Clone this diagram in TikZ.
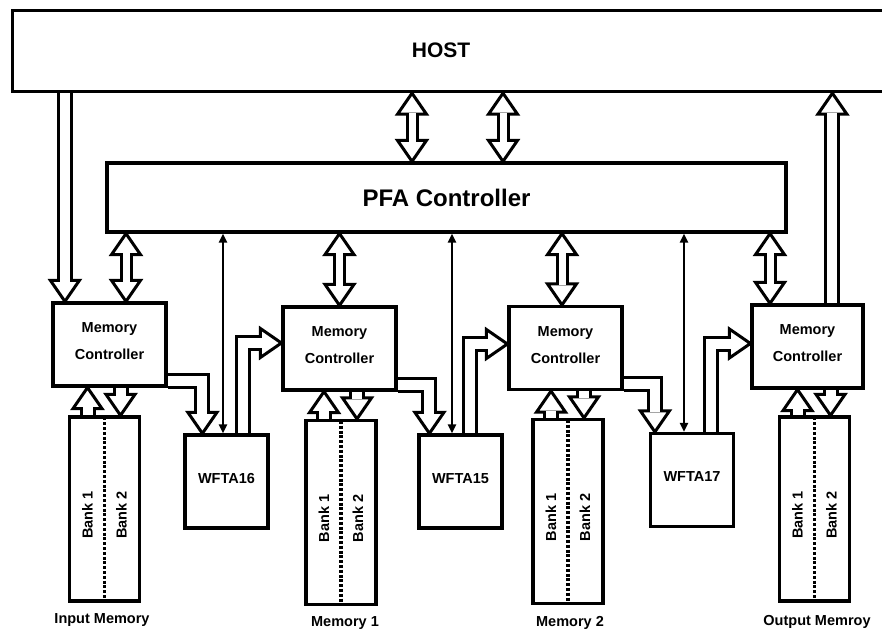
\documentclass[tikz,border=0pt]{standalone}
\usepackage{fontspec}
\setmainfont{Liberation Sans}
\usetikzlibrary{calc,arrows.meta}
\pgfdeclarelayer{heads}
\pgfdeclarelayer{shafts}
\pgfsetlayers{heads,shafts,main}
\newcommand{\ahL}{21pt}
\newcommand{\ahW}{14.5pt}
\newcommand{\ahS}{19.5pt}
\newcommand{\hhead}[2]{%
  \path[headshape] let \p1=(#1), \p2=(#2), \n1={atan2(\y2-\y1,\x2-\x1)} in
   (\p2) -- ($(\p2)+(\n1+180:\ahL)+(\n1+90:\ahW)$) -- ($(\p2)+(\n1+180:\ahL)+(\n1-90:\ahW)$) -- cycle;}
\tikzset{
  box/.style={draw, line width=3.2pt, inner sep=0pt},
  small/.style={font=\bfseries\fontsize{14.5}{27}\selectfont},
  mcbox/.style={box, small, minimum width=113pt, minimum height=83pt, align=center, text depth=6pt},
  wfta/.style={box, small, minimum width=83pt, minimum height=93pt, text depth=6pt},
  membox/.style={box, minimum width=70pt, minimum height=184pt},
  headshape/.style={fill=white, draw=black, line width=3pt, line join=miter},
  shaft/.style={draw=black, double=white, double distance=10pt, line width=3pt, line join=miter},
  dshaft/.style={shaft, double distance=7pt},
  sig/.style={line width=2.2pt, {Triangle[length=9pt,width=8pt]}-{Triangle[length=9pt,width=8pt]}},
  divider/.style={draw=black, line width=3.4pt, dash pattern=on 3pt off 1.8pt},
}
\begin{document}
\begin{tikzpicture}[x=1pt,y=-1pt]
\useasboundingbox (0,0) rectangle (882,631);
% boxes
\node[box, minimum width=900pt, minimum height=81pt, anchor=north west] (host) at (11,9) {};
\node[font=\bfseries\fontsize{21}{24}\selectfont] (hostlbl) at (441,50) {HOST};
\node[box, minimum width=679pt, minimum height=69pt, font=\bfseries\fontsize{24}{28}\selectfont] (pfa) at (446.5,197.5) {PFA Controller};
\node[mcbox] (mc1) at (109.5,344.5) {Memory\\Controller};
\node[mcbox] (mc2) at (339.5,348.5) {Memory\\Controller};
\node[mcbox] (mc3) at (565.5,348) {Memory\\Controller};
\node[mcbox, minimum width=111pt] (mc4) at (807.5,346.5) {Memory\\Controller};
\node[wfta] (w16) at (226.5,481.5) {WFTA16};
\node[wfta] (w15) at (460.5,481.5) {WFTA15};
\node[wfta] (w17) at (692,480) {WFTA17};
\node[membox] (m0) at (104.5,509) {};
\node[membox] (m1) at (341,512.5) {};
\node[membox] (m2) at (568,511.5) {};
\node[membox] (m3) at (814.5,509) {};
\foreach \m in {m0,m1,m2,m3}{
  \draw[divider] ($(\m.north)+(0,2)$) -- ($(\m.south)+(0,-2)$);
  \node[small, rotate=90] (\m b1) at ($(\m.center)+(-17,6)$) {Bank 1};
  \node[small, rotate=90] (\m b2) at ($(\m.center)+(17,6)$) {Bank 2};
}
\node[small] (l0) at (102,620) {Input Memory};
\node[small] (l1) at (345,623) {Memory 1};
\node[small] (l2) at (570,623) {Memory 2};
\node[small] (l3) at (817,622) {Output Memroy};
% coordinates
\coordinate (hm1t) at ($(mc1.north west)+(13.5,0)$);
\coordinate (hm1s) at (host.south -| hm1t);
\coordinate (mh4s) at ($(mc4.north west)+(82,0)$);
\coordinate (mh4t) at (host.south -| mh4s);
\coordinate (hp1a) at ($(pfa.north)+(-34.5,0)$);
\coordinate (hp1b) at (host.south -| hp1a);
\coordinate (hp2a) at ($(pfa.north)+(56.5,0)$);
\coordinate (hp2b) at (host.south -| hp2a);
\coordinate (pm1a) at ($(mc1.north)+(16.5,0)$);
\coordinate (pm2a) at (mc2.north);
\coordinate (pm3a) at ($(mc3.north)+(-3.5,0)$);
\coordinate (pm4a) at ($(mc4.north)+(-37.5,0)$);
\foreach \i in {1,2,3,4}{\coordinate (pm\i b) at (pfa.south -| pm\i a);}
% MC -> WFTA
\coordinate (mw1t) at ($(w16.north west)+(19,0)$);
\coordinate (mw1s) at ($(mc1.south east)+(0,-7)$);
\coordinate (mw2t) at ($(w15.north west)+(12,0)$);
\coordinate (mw2s) at ($(mc2.south east)+(0,-7)$);
\coordinate (mw3t) at ($(w17.north west)+(6,0)$);
\coordinate (mw3s) at ($(mc3.south east)+(0,-7)$);
\foreach \i in {1,2,3}{\coordinate (mw\i c) at (mw\i t |- mw\i s);}
% WFTA -> MC
\coordinate (wm1s) at ($(w16.north)+(16,0)$);
\coordinate (wm1t) at ($(mc2.west)+(0,-5.5)$);
\coordinate (wm2s) at ($(w15.north)+(9.5,0)$);
\coordinate (wm2t) at ($(mc3.west)+(0,-4)$);
\coordinate (wm3s) at ($(w17.north)+(19,0)$);
\coordinate (wm3t) at ($(mc4.west)+(0,-3)$);
\foreach \i in {1,2,3}{\coordinate (wm\i c) at (wm\i s |- wm\i t);}
% MC <-> memory
\foreach \i/\m/\c in {0/m0/mc1,1/m1/mc2,2/m2/mc3,3/m3/mc4}{
  \coordinate (up\i s) at ($(\m.north)+(-17,0)$);
  \coordinate (up\i t) at (\c.south -| up\i s);
  \coordinate (dn\i t) at ($(\m.north)+(16,0)$);
  \coordinate (dn\i s) at (\c.south -| dn\i t);
}
% thin signal lines
\coordinate (s16) at ($(w16.north)+(-3.5,0)$);
\coordinate (s15) at ($(w15.north)+(-8.5,0)$);
\coordinate (s17) at ($(w17.north)+(-8,0)$);
\foreach \s in {s16,s15,s17}{\draw[sig] (pfa.south -| \s) -- (\s);}
% heads
\begin{pgfonlayer}{heads}
\hhead{hm1s}{hm1t}
\hhead{mh4s}{mh4t}
\hhead{hp1b}{hp1a}\hhead{hp1a}{hp1b}
\hhead{hp2b}{hp2a}\hhead{hp2a}{hp2b}
\foreach \i in {1,2,3,4}{\hhead{pm\i b}{pm\i a}\hhead{pm\i a}{pm\i b}}
\foreach \i in {1,2,3}{\hhead{mw\i c}{mw\i t}\hhead{wm\i c}{wm\i t}}
\foreach \i in {0,1,2,3}{\hhead{up\i s}{up\i t}\hhead{dn\i s}{dn\i t}}
\end{pgfonlayer}
% shafts
\begin{pgfonlayer}{shafts}
\draw[shaft] (hm1s) -- ($(hm1t)!\ahS!(hm1s)$);
\draw[shaft] (mh4s) -- ($(mh4t)!\ahS!(mh4s)$);
\draw[dshaft] ($(hp1a)!\ahS!(hp1b)$) -- ($(hp1b)!\ahS!(hp1a)$);
\draw[dshaft] ($(hp2a)!\ahS!(hp2b)$) -- ($(hp2b)!\ahS!(hp2a)$);
\foreach \i in {1,2,3,4}{\draw[dshaft] ($(pm\i a)!\ahS!(pm\i b)$) -- ($(pm\i b)!\ahS!(pm\i a)$);}
\foreach \i in {1,2,3}{
  \draw[shaft] (mw\i s) -- (mw\i c) -- ($(mw\i t)!\ahS!(mw\i c)$);
  \draw[shaft] (wm\i s) -- (wm\i c) -- ($(wm\i t)!\ahS!(wm\i c)$);
}
\foreach \i in {0,1,2,3}{
  \draw[shaft] (up\i s) -- ($(up\i t)!\ahS!(up\i s)$);
  \draw[shaft] (dn\i s) -- ($(dn\i t)!\ahS!(dn\i s)$);
}
\end{pgfonlayer}
\end{tikzpicture}
\end{document}
